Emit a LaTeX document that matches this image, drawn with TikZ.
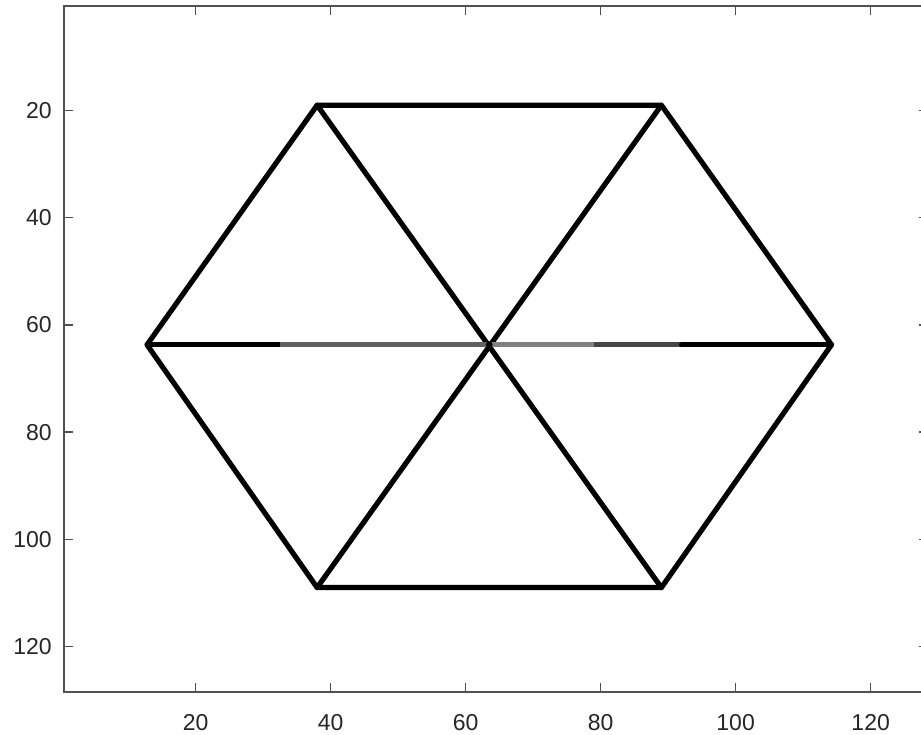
\documentclass[tikz,border=0pt]{standalone}
\usepackage{fontspec}
\setmainfont{Liberation Sans}
\usepackage{xcolor}

\definecolor{axgray}{RGB}{38,38,38}

\begin{document}
\begin{tikzpicture}[x=6.75pt, y=-5.36pt,
    hexline/.style={line width=5.2pt, line cap=round, line join=round, black},
    axline/.style={line width=1.5pt, draw=axgray!80},
    axtick/.style={line width=1.5pt, draw=axgray!80},
    ticklabel/.style={font=\fontsize{23}{23}\selectfont, text=axgray, inner sep=0pt}]
  \clip (-8.98,-0.62) rectangle (127.46,136.32);
  % --- vertices (image pixels) ------------------------------------------
  \coordinate (tl) at (38,19);
  \coordinate (tr) at (89,19);
  \coordinate (r)  at (114.2,63.7);
  \coordinate (br) at (89,109);
  \coordinate (bl) at (38,109);
  \coordinate (l)  at (12.8,63.7);
  \coordinate (c)  at (63.5,63.7);
  \coordinate (ml) at (32.5,63.7);
  \coordinate (mr) at (92,63.7);
  \coordinate (md) at (79,63.7);
  % --- hexagon and spokes -----------------------------------------------
  \draw[hexline] (tl) -- (tr) -- (r) -- (br) -- (bl) -- (l) -- cycle;
  \draw[hexline] (tl) -- (br);
  \draw[hexline] (tr) -- (bl);
  \draw[hexline] (l) -- (ml);
  \draw[hexline,black!62,line cap=butt] (ml) -- (c);
  \draw[hexline,black!50,line cap=butt] (c) -- (md);
  \draw[hexline,black!72,line cap=butt] (md) -- (mr);
  \draw[hexline] (mr) -- (r);
  \fill[black] (c) circle (3.4pt);
  % --- axes box with inward ticks ---------------------------------------
  \draw[axline] (0.5,0.5) rectangle (128.5,128.5);
  \foreach \t in {20,40,...,120} {
    \draw[axtick] (0.5,\t) -- ++(9pt,0);
    \draw[axtick] (128.5,\t) -- ++(-9pt,0);
    \draw[axtick] (\t,128.5) -- ++(0,9pt);
    \draw[axtick] (\t,0.5) -- ++(0,-9pt);
    \node[ticklabel,anchor=east] (yl\t) at ([xshift=-12pt]0.5,\t) {\t};
    \node[ticklabel,anchor=north] (xl\t) at ([yshift=-22pt]\t,128.5) {\t};
  }
\end{tikzpicture}
\end{document}
